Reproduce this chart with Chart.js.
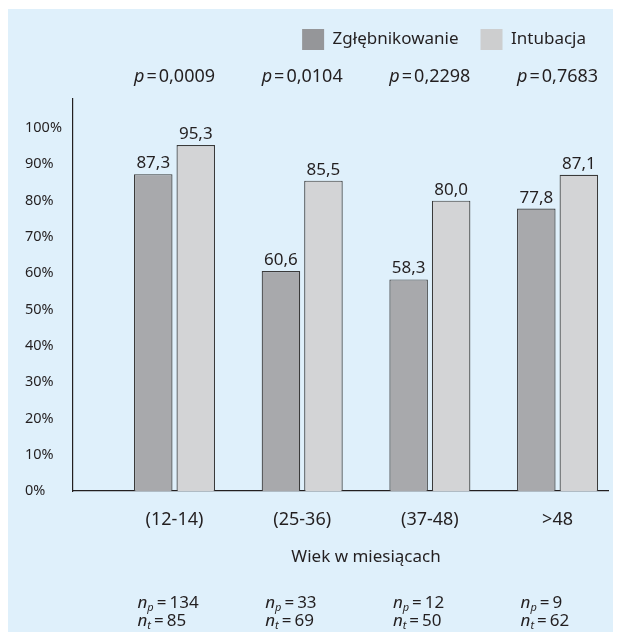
<!DOCTYPE html>
<html>
<head>
<meta charset="utf-8">
<script src="https://cdn.jsdelivr.net/npm/chart.js@4.4.1/dist/chart.umd.min.js"></script>
<style>
  html, body { margin: 0; padding: 0; background: #ffffff; }
  #wrap { width: 621px; height: 640px; }
</style>
</head>
<body>
<div id="wrap"><canvas id="chart" width="621" height="640"></canvas></div>
<script>
// Age groups (months) and success rates (%) for the two procedures
const ageGroups = ['(12-14)', '(25-36)', '(37-48)', '>48'];
const probing = [87.3, 60.6, 58.3, 77.8];
const intubation = [95.3, 85.5, 80.0, 87.1];
const pValues = ['0,0009', '0,0104', '0,2298', '0,7683'];
const nProbing = [134, 33, 12, 9];
const nIntubation = [85, 69, 50, 62];
const yTicks = [0, 10, 20, 30, 40, 50, 60, 70, 80, 90, 100];

const FONT = '"Noto Sans", "DejaVu Sans", sans-serif';
const INK = '#231f20';

const fmt = v => v.toFixed(1).replace('.', ',');
const toPoints = arr => arr.map((v, i) => ({ x: i, y: v }));

// Draw a run of text pieces with different fonts side by side;
// "pad" adds space on both sides of a piece
function drawRuns(ctx, runs, x, y, align) {
  let total = 0;
  runs.forEach(r => {
    ctx.font = r.font;
    r.w = ctx.measureText(r.text).width + 2 * (r.pad || 0);
    total += r.w;
  });
  let cx = align === 'center' ? x - total / 2 : x;
  ctx.textAlign = 'left';
  runs.forEach(r => {
    ctx.font = r.font;
    ctx.fillText(r.text, cx + (r.pad || 0), y + (r.dy || 0));
    cx += r.w;
  });
}

// White page with a light blue panel
const panel = {
  id: 'panel',
  beforeDraw(chart) {
    const { ctx, width, height } = chart;
    ctx.save();
    ctx.fillStyle = '#ffffff';
    ctx.fillRect(0, 0, width, height);
    ctx.fillStyle = '#dff0fb';
    ctx.fillRect(8, 9, width - 16, height - 17);
    ctx.restore();
  }
};

// Reserves a strip between the legend and the plot for the p-value row
const pRow = {
  id: 'pRow',
  beforeInit(chart) {
    Chart.layouts.addBox(chart, {
      position: 'top', weight: 500, fullSize: false, options: {},
      left: 0, top: 0, right: 0, bottom: 0, width: 0, height: 0,
      isHorizontal() { return true; },
      update(maxWidth) { this.width = maxWidth; this.height = 39; },
      draw() {}
    });
  }
};

// Value labels, p-values, axis title and group sizes
const annotations = {
  id: 'annotations',
  afterDatasetsDraw(chart) {
    const { ctx, scales: { x } } = chart;
    ctx.save();
    ctx.fillStyle = INK;

    ctx.font = `17px ${FONT}`;
    ctx.textAlign = 'center';
    ctx.textBaseline = 'alphabetic';
    chart.data.datasets.forEach((ds, di) => {
      chart.getDatasetMeta(di).data.forEach((bar, i) => {
        ctx.fillText(fmt(ds.data[i].y), bar.x, bar.y - 6);
      });
    });

    ctx.textBaseline = 'middle';
    pValues.forEach((p, i) => {
      drawRuns(ctx, [
        { text: 'p', font: `italic 18px ${FONT}` },
        { text: '=', font: `18px ${FONT}`, pad: 2 },
        { text: p, font: `18px ${FONT}` }
      ], x.getPixelForValue(i), 77, 'center');
    });

    const mid = (x.getPixelForValue(0) + x.getPixelForValue(ageGroups.length - 1)) / 2;
    ctx.font = `17px ${FONT}`;
    ctx.textAlign = 'center';
    ctx.fillText('Wiek w miesiącach', mid, 557);

    ageGroups.forEach((g, i) => {
      const left = x.getPixelForValue(i) - 37;
      drawRuns(ctx, [
        { text: 'n', font: `italic 17px ${FONT}` },
        { text: 'p', font: `italic 11px ${FONT}`, dy: 5 },
        { text: '=', font: `17px ${FONT}`, pad: 3 },
        { text: String(nProbing[i]), font: `17px ${FONT}` }
      ], left, 603, 'left');
      drawRuns(ctx, [
        { text: 'n', font: `italic 17px ${FONT}` },
        { text: 't', font: `italic 11px ${FONT}`, dy: 5 },
        { text: '=', font: `17px ${FONT}`, pad: 3 },
        { text: String(nIntubation[i]), font: `17px ${FONT}` }
      ], left, 621, 'left');
    });
    ctx.restore();
  }
};

new Chart(document.getElementById('chart'), {
  type: 'bar',
  data: {
    datasets: [
      {
        label: 'Zgłębnikowanie',
        data: toPoints(probing),
        backgroundColor: '#a8a9ac',
        borderColor: '#3a3a3a',
        borderWidth: 1.2,
        categoryPercentage: 0.666,
        barPercentage: 0.906
      },
      {
        label: 'Intubacja',
        data: toPoints(intubation),
        backgroundColor: '#d3d4d6',
        borderColor: '#3a3a3a',
        borderWidth: 1.2,
        categoryPercentage: 0.666,
        barPercentage: 0.906
      }
    ]
  },
  options: {
    responsive: false,
    animation: false,
    layout: { padding: { top: 7, right: 13, bottom: 0, left: 25 } },
    plugins: {
      tooltip: { enabled: false },
      legend: {
        position: 'top',
        align: 'end',
        labels: {
          boxWidth: 22,
          boxHeight: 21,
          padding: 22,
          color: INK,
          font: { family: FONT, size: 17 },
          generateLabels(chart) {
            const fills = ['#959699', '#cdcecf'];
            return chart.data.datasets.map((ds, i) => ({
              text: ds.label,
              fillStyle: fills[i],
              strokeStyle: fills[i],
              lineWidth: 0,
              hidden: false,
              datasetIndex: i,
              fontColor: INK
            }));
          }
        }
      }
    },
    scales: {
      x: {
        type: 'linear',
        offset: false,
        min: -0.795,
        max: 3.395,
        grid: { display: false, drawTicks: false, offset: false },
        border: { display: true, color: INK, width: 1.2 },
        afterBuildTicks(scale) { scale.ticks = ageGroups.map((_, i) => ({ value: i })); },
        afterFit(scale) { scale.height = 149; },
        ticks: {
          padding: 18,
          color: INK,
          font: { family: FONT, size: 18 },
          maxRotation: 0,
          callback: v => ageGroups[v]
        }
      },
      y: {
        min: 0,
        max: 108,
        grid: { display: false, drawTicks: false },
        border: { display: true, color: INK, width: 1.2 },
        afterBuildTicks(scale) { scale.ticks = yTicks.map(v => ({ value: v })); },
        afterFit(scale) { scale.width = 48; },
        ticks: {
          padding: 9,
          crossAlign: 'far',
          color: INK,
          font: { family: FONT, size: 14.5 },
          callback: v => v + '%'
        }
      }
    }
  },
  plugins: [panel, pRow, annotations]
});
</script>
</body>
</html>
